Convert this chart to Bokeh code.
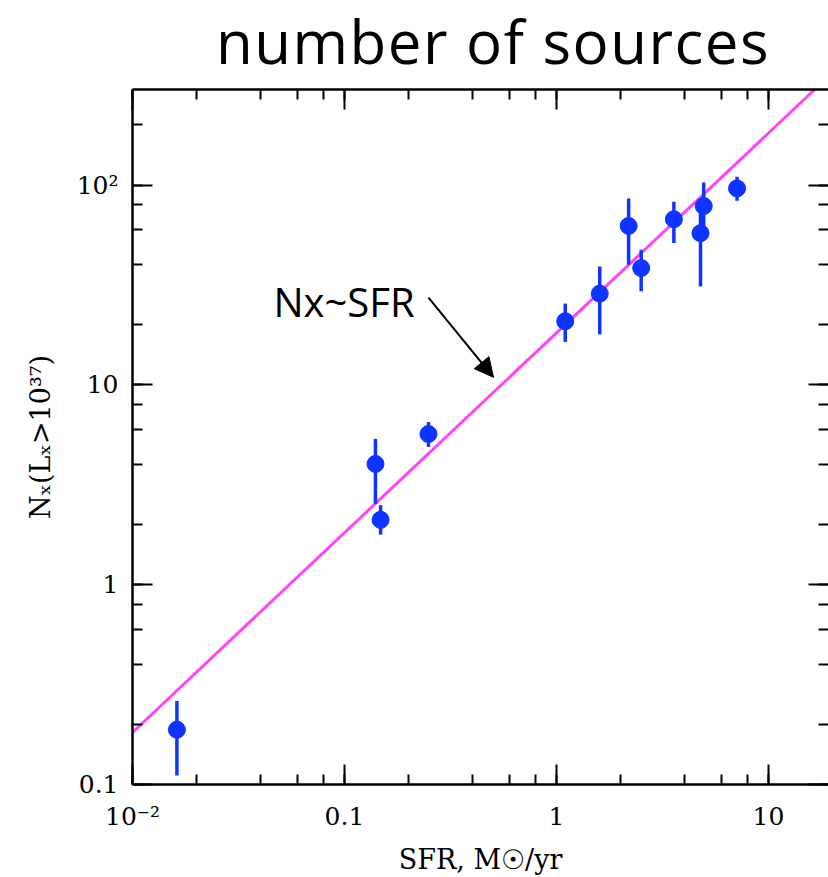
from bokeh.plotting import figure
from bokeh.models import (LogAxis, Label, Arrow, NormalHead, CustomJSTickFormatter,
                          ColumnDataSource, Range1d, LogScale, Div)
from bokeh.layouts import column
from bokeh.embed import file_html
from bokeh.resources import INLINE

# ---- data ----
sfr = [0.0162, 0.140, 0.148, 0.249, 1.10, 1.60, 2.19, 2.51, 3.58, 4.78, 4.95, 7.11]
nx = [0.188, 4.02, 2.11, 5.67, 20.8, 28.6, 62.4, 38.4, 67.4, 57.4, 78.5, 96.2]
nx_lo = [0.111, 2.54, 1.78, 4.89, 16.4, 17.9, 39.9, 29.4, 51.2, 31.1, 60.0, 83.4]
nx_hi = [0.262, 5.36, 2.50, 6.51, 25.5, 39.1, 85.7, 47.4, 82.4, 80.0, 103.0, 110.0]

fit_x = [0.01, 16.5]
fit_y = [0.182, 300.0]

x_tick_vals = [0.01, 0.1, 1, 10]
x_tick_text = ["10\u207b\u00b2", "0.1", "1", "10"]
y_tick_vals = [0.1, 1, 10, 100]
y_tick_text = ["0.1", "1", "10", "10\u00b2"]

title_text = "number of sources"
note_text = "Nx~SFR"
note_xy = (0.0462, 26.1)
arrow_from = (0.249, 27.3)
arrow_to = (0.505, 10.9)

BLUE = "#1034ff"
PINK = "#ff45f5"
SERIF = "DejaVu Serif"
HAND = "Open Sans"

TITLE_H = 82

head_html = ('<div style="font-family: \'Open Sans\', sans-serif; font-size: 60px; '
             'line-height: 82px; letter-spacing: 1.5px; color: black; text-align: center; '
             'width: 828px; padding: 0 0 0 158px; margin: 0; box-sizing: border-box; '
             'white-space: nowrap;">' + title_text + '</div>')
head = Div(text=head_html, width=828, height=TITLE_H, margin=(0, 0, 0, 0))

p = figure(width=828, height=877 - TITLE_H, x_axis_type=None, y_axis_type=None,
           x_range=Range1d(0.01, 19.2), y_range=Range1d(0.1, 300.6),
           output_backend="svg", toolbar_location=None,
           min_border_left=132, min_border_right=0, min_border_top=89 - TITLE_H,
           min_border_bottom=90)
p.x_scale = LogScale()
p.y_scale = LogScale()
p.outline_line_color = None
p.background_fill_color = "white"
p.border_fill_color = "white"


def fmt(keys, vals):
    return CustomJSTickFormatter(args=dict(keys=keys, vals=vals), code="""
        for (let i = 0; i < keys.length; i++) {
            if (Math.abs(Math.log10(tick) - Math.log10(keys[i])) < 1e-6) return vals[i];
        }
        return "";
    """)


def blank():
    return CustomJSTickFormatter(code="return '';")


def style(ax, labels=True):
    ax.major_tick_in = 20
    ax.major_tick_out = 0
    ax.minor_tick_in = 10
    ax.minor_tick_out = 0
    ax.axis_line_width = 2.5
    ax.major_tick_line_width = 2
    ax.minor_tick_line_width = 2
    ax.axis_line_color = "black"
    ax.major_label_text_font = SERIF
    ax.major_label_text_font_size = "25px"
    ax.major_label_text_color = "black"
    ax.axis_label_text_font = SERIF
    ax.axis_label_text_font_size = "27px"
    ax.axis_label_text_font_style = "normal"
    ax.axis_label_text_color = "black"
    if not labels:
        ax.major_label_standoff = 0
        ax.major_label_text_font_size = "1px"


xb = LogAxis(axis_label="SFR, M\u2609/yr", formatter=fmt(x_tick_vals, x_tick_text))
style(xb)
xb.major_label_standoff = 17
xb.axis_label_standoff = 10
p.add_layout(xb, "below")

yl = LogAxis(axis_label="N\u2093(L\u2093>10\u00b3\u2077)", formatter=fmt(y_tick_vals, y_tick_text))
style(yl)
yl.major_label_standoff = 14
yl.axis_label_standoff = 18
yl.major_label_orientation = "horizontal"
p.add_layout(yl, "left")

xt = LogAxis(formatter=blank())
style(xt, labels=False)
p.add_layout(xt, "above")

yr = LogAxis(formatter=blank())
style(yr, labels=False)
yr.axis_line_color = None
p.add_layout(yr, "right")

# fit line
p.line(fit_x, fit_y, line_color=PINK, line_width=3)

# error bars and points
src = ColumnDataSource(dict(x=sfr, y=nx, lo=nx_lo, hi=nx_hi))
p.segment(x0="x", y0="lo", x1="x", y1="hi", source=src, line_color=BLUE, line_width=3.5)
p.scatter(x="x", y="y", source=src, size=17, fill_color=BLUE, line_color=BLUE)

# annotation
p.add_layout(Label(x=note_xy[0], y=note_xy[1], text=note_text, text_font=HAND,
                   text_font_size="40px", text_color="black", text_baseline="alphabetic"))
p.add_layout(Arrow(x_start=arrow_from[0], y_start=arrow_from[1], x_end=arrow_to[0], y_end=arrow_to[1],
                   line_width=2, line_color="black",
                   end=NormalHead(size=19, fill_color="black", line_color="black")))

layout = column(head, p, spacing=0)
open("out.html", "w").write(file_html(layout, INLINE))
